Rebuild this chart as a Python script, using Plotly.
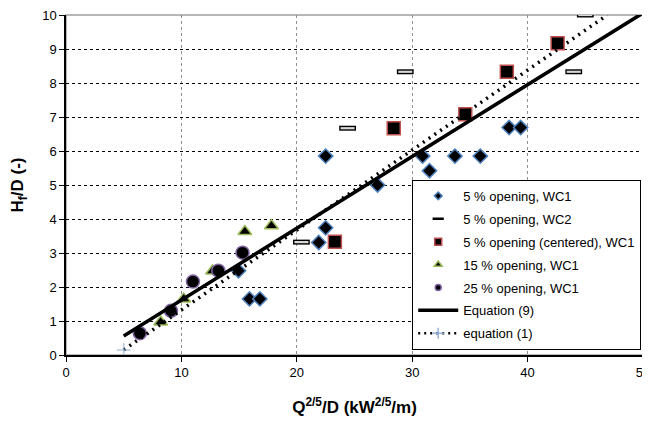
import plotly.graph_objects as go

# 5 % opening, WC1
wc1_5_x = [14.95, 15.9, 16.8, 21.9, 22.5, 22.5, 27.0, 30.9, 31.5, 33.7, 35.9, 38.4, 39.4]
wc1_5_y = [2.48, 1.65, 1.65, 3.31, 3.74, 5.85, 5.0, 5.85, 5.42, 5.85, 5.85, 6.69, 6.69]

# 5 % opening, WC2
wc2_5_x = [20.4, 24.4, 29.4, 44.0, 45.0]
wc2_5_y = [3.32, 6.67, 8.33, 8.33, 10.0]

# 5 % opening (centered), WC1
cen_x = [23.3, 28.4, 34.6, 38.2, 42.6]
cen_y = [3.33, 6.67, 7.08, 8.33, 9.17]

# 15 % opening, WC1
wc1_15_x = [8.2, 10.2, 12.7, 15.5, 17.8]
wc1_15_y = [0.97, 1.65, 2.47, 3.63, 3.80]

# 25 % opening, WC1
wc1_25_x = [6.4, 9.1, 11.0, 13.2, 15.3]
wc1_25_y = [0.64, 1.30, 2.16, 2.48, 3.01]

# Equation (9) and equation (1), end points
eq9_x = [5.0, 50.0]
eq9_y = [0.56, 10.06]
eq1_x = [5.0, 46.9]
eq1_y = [0.15, 10.0]

fig = go.Figure()

# marker styles, shared by the data traces and the small legend entries
diamond = dict(symbol="diamond", color="black", line=dict(color="#4F81BD", width=1.5))
bar = dict(symbol="line-ew", color="black", line=dict(color="black", width=5))
square = dict(symbol="square", color="black", line=dict(color="#C0504D", width=1.5))
triangle = dict(symbol="triangle-up", color="black", line=dict(color="#9BBB59", width=1.5))
circle = dict(symbol="circle", color="black", line=dict(color="#8064A2", width=1.5))

fig.add_trace(go.Scatter(x=wc1_5_x, y=wc1_5_y, mode="markers", showlegend=False,
                         marker=dict(size=11, **diamond)))
fig.add_trace(go.Scatter(x=wc2_5_x, y=wc2_5_y, mode="markers", showlegend=False,
                         marker=dict(size=12, **bar)))
# light fill inside the little bars
fig.add_trace(go.Scatter(
    x=wc2_5_x, y=wc2_5_y, mode="markers", showlegend=False, hoverinfo="skip",
    marker=dict(symbol="line-ew", size=10, color="#d8d8d8",
                line=dict(color="#d8d8d8", width=2.2))))
fig.add_trace(go.Scatter(x=cen_x, y=cen_y, mode="markers", showlegend=False,
                         marker=dict(size=13, **square)))
fig.add_trace(go.Scatter(x=wc1_15_x, y=wc1_15_y, mode="markers", showlegend=False,
                         marker=dict(size=12, **triangle)))
fig.add_trace(go.Scatter(x=wc1_25_x, y=wc1_25_y, mode="markers", showlegend=False,
                         marker=dict(size=13, **circle)))

fig.add_trace(go.Scatter(
    x=eq9_x, y=eq9_y, mode="lines", name="Equation (9)", showlegend=False,
    line=dict(color="black", width=3.5)))
fig.add_trace(go.Scatter(
    x=eq1_x, y=eq1_y, mode="lines+markers", name="equation (1)", showlegend=False,
    line=dict(color="black", width=3.5, dash="2px,5px"),
    marker=dict(symbol="cross-thin", size=[10, 0], color="#95B3D7",
                line=dict(color="#95B3D7", width=1.5))))

# legend entries with small symbols, like the original
legend_items = [
    ("5 % opening, WC1", dict(size=6, **diamond)),
    ("5 % opening, WC2", dict(size=8, symbol="line-ew", color="black",
                              line=dict(color="black", width=2.5))),
    ("5 % opening (centered), WC1", dict(size=7, **square)),
    ("15 % opening, WC1", dict(size=7, **triangle)),
    ("25 % opening, WC1", dict(size=6, **circle)),
]
for i, (name, mk) in enumerate(legend_items):
    fig.add_trace(go.Scatter(x=[None], y=[None], mode="markers", name=name,
                             legendgroup=f"g{i}", marker=mk))
fig.add_trace(go.Scatter(x=[None], y=[None], mode="lines", name="Equation (9)",
                         legendgroup="g5", line=dict(color="black", width=3.5)))
fig.add_trace(go.Scatter(x=[None], y=[None], mode="lines+markers", name="equation (1)",
                         legendgroup="g6",
                         line=dict(color="black", width=2.5, dash="2px,4px"),
                         marker=dict(symbol="cross-thin", size=8, color="#95B3D7",
                                     line=dict(color="#95B3D7", width=1.5))))

# the page body adds an 8px margin, so the figure is a little smaller and shifted
fig.update_layout(
    width=642, height=432,
    margin=dict(l=58, r=7, t=7, b=85),
    paper_bgcolor="white", plot_bgcolor="white",
    font=dict(family="Arial, Liberation Sans, sans-serif", size=12, color="black"),
    legend=dict(x=0.6, y=0.515, xanchor="left", yanchor="top",
                bgcolor="white", bordercolor="black", borderwidth=1,
                font=dict(size=13), tracegroupgap=3, itemwidth=40),
    shapes=[dict(type="rect", xref="paper", yref="paper", x0=0, y0=0, x1=1, y1=1,
                 line=dict(color="#a0a0a0", width=1.5), layer="below")],
)

fig.update_xaxes(
    range=[0, 50], dtick=10, showgrid=True, gridcolor="#909090", griddash="dot",
    gridwidth=1, showline=True, linecolor="black", linewidth=1.5,
    ticks="outside", ticklen=5, tickcolor="black", zeroline=False,
    tickfont=dict(size=13), automargin=False, ticklabeloverflow="allow",
    title=dict(text="<b>Q<sup>2/5</sup>/D (kW<sup>2/5</sup>/m)</b>",
               font=dict(size=17), standoff=22))

fig.update_yaxes(
    range=[0, 10], dtick=1, showgrid=True, gridcolor="black", griddash="dot",
    gridwidth=1, showline=True, linecolor="black", linewidth=1.5,
    ticks="outside", ticklen=5, tickcolor="black", zeroline=False,
    tickfont=dict(size=13), automargin=False, ticklabeloverflow="allow",
    title=dict(text="<b>H<sub>f</sub>/D (-)</b>", font=dict(size=17), standoff=22))

fig.write_html("out.html")
